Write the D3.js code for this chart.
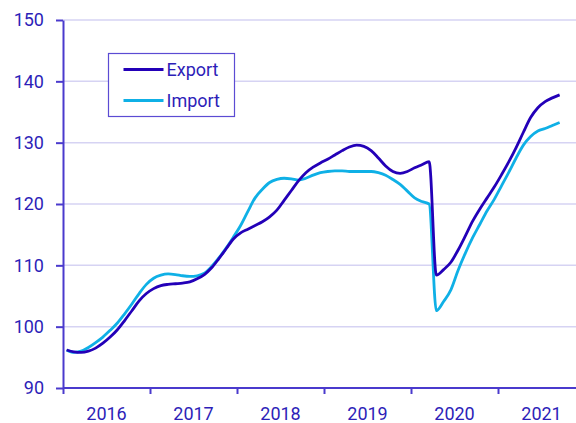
<!DOCTYPE html>
<html>
<head>
<meta charset="utf-8">
<script src="https://cdn.jsdelivr.net/npm/d3@7"></script>
<style>
  html, body { margin: 0; padding: 0; background: #fff; }
  svg { display: block; font-family: Roboto, "Noto Sans", sans-serif; }
</style>
</head>
<body>
<svg id="chart" width="576" height="423"></svg>
<script>
// Monthly index, Jan 2016 - Sep 2021
const years = ['2016', '2017', '2018', '2019', '2020', '2021'];
const yTicks = [90, 100, 110, 120, 130, 140, 150];

const exportValues = [
  96.2, 95.9, 95.8, 96.0, 96.5, 97.3, 98.3, 99.5, 101.0, 102.6, 104.2, 105.4,
  106.2, 106.7, 106.9, 107.0, 107.1, 107.3, 107.8, 108.5, 109.6, 111.1, 112.7, 114.3,
  115.3, 115.9, 116.5, 117.1, 117.9, 119.0, 120.6, 122.2, 123.8, 125.1, 126.0, 126.7,
  127.3, 128.0, 128.7, 129.3, 129.6, 129.4, 128.7, 127.5, 126.2, 125.3, 125.0, 125.3,
  125.9, 126.4, 126.9, 108.4, 109.3, 110.5, 112.5, 114.8, 117.2, 119.2, 121.0, 122.8,
  124.8, 126.9, 129.2, 131.7, 134.1, 135.7, 136.7, 137.3, 137.8
];
const importValues = [
  96.2, 95.8, 96.0, 96.6, 97.4, 98.3, 99.4, 100.6, 102.1, 103.7, 105.4, 106.9,
  107.9, 108.4, 108.6, 108.5, 108.3, 108.2, 108.3, 108.7, 109.8, 111.2, 112.8, 114.6,
  116.5, 118.8, 121.0, 122.4, 123.5, 124.0, 124.2, 124.1, 123.9, 124.2, 124.7, 125.1,
  125.3, 125.4, 125.4, 125.3, 125.3, 125.3, 125.3, 125.1, 124.7, 124.0, 123.2, 122.1,
  121.0, 120.4, 120.0, 102.6, 104.1, 106.0, 109.2, 112.0, 114.5, 116.7, 118.9, 120.8,
  123.0, 125.2, 127.5, 129.6, 131.0, 131.9, 132.3, 132.8, 133.3
];

const series = [
  { name: 'Export', values: exportValues, color: '#2300b8' },
  { name: 'Import', values: importValues, color: '#0fb0e6' }
];

const axisColor = '#4a3acd';
const textColor = '#2d1eb8';
const gridColor = '#d6d3f3';

const svg = d3.select('#chart');
const margin = { left: 63, top: 20, bottom: 35 };
const height = 423;
const monthW = 87 / 12;

const x = d3.scaleLinear()
  .domain([0, 72])
  .range([margin.left, margin.left + 72 * monthW]);

const y = d3.scaleLinear()
  .domain([90, 150])
  .range([height - margin.bottom, margin.top]);

// gridlines
svg.append('g')
  .selectAll('line')
  .data(yTicks.filter(d => d > 90))
  .join('line')
  .attr('x1', margin.left)
  .attr('x2', 576)
  .attr('y1', d => y(d))
  .attr('y2', d => y(d))
  .attr('stroke', gridColor)
  .attr('stroke-width', 1.5);

// y axis
const yAxis = svg.append('g')
  .attr('transform', `translate(${margin.left},0)`)
  .call(d3.axisLeft(y).tickValues(yTicks).tickSize(7).tickPadding(12).tickSizeOuter(0));

// x axis
const xAxis = svg.append('g')
  .attr('transform', `translate(0,${y(90)})`)
  .call(d3.axisBottom(x).tickValues(d3.range(0, 73, 12)).tickFormat('').tickSize(6).tickSizeOuter(0));

[yAxis, xAxis].forEach(g => {
  g.select('.domain').attr('stroke', axisColor).attr('stroke-width', 2);
  g.selectAll('.tick line').attr('stroke', axisColor).attr('stroke-width', 2);
  g.selectAll('.tick text')
    .attr('fill', textColor)
    .style('font-size', '18px')
    .style('font-family', 'Roboto, sans-serif');
});
xAxis.select('.domain').attr('d', `M${margin.left},0H576`);

// year labels centred between ticks
svg.append('g')
  .selectAll('text')
  .data(years)
  .join('text')
  .attr('x', (d, i) => x(i * 12 + 6))
  .attr('y', 420)
  .attr('text-anchor', 'middle')
  .attr('fill', textColor)
  .style('font-size', '18px')
  .text(d => d);

// lines
const line = d3.line()
  .x((d, i) => x(i + 0.5))
  .y(d => y(d))
  .curve(d3.curveMonotoneX);

svg.append('g')
  .selectAll('path')
  .data(series.slice().reverse())
  .join('path')
  .attr('d', d => line(d.values))
  .attr('fill', 'none')
  .attr('stroke', d => d.color)
  .attr('stroke-width', 2.8)
  .attr('stroke-linejoin', 'round');

// legend
const legend = svg.append('g').attr('transform', 'translate(108.5,53.5)');
legend.append('rect')
  .attr('width', 126)
  .attr('height', 63)
  .attr('fill', '#fff')
  .attr('stroke', '#5b4bd3')
  .attr('stroke-width', 1.2);

const item = legend.selectAll('g.item')
  .data(series)
  .join('g')
  .attr('class', 'item')
  .attr('transform', (d, i) => `translate(0,${16 + i * 31})`);

item.append('line')
  .attr('x1', 15)
  .attr('x2', 55)
  .attr('stroke', d => d.color)
  .attr('stroke-width', 3);

item.append('text')
  .attr('x', 58)
  .attr('y', 6.5)
  .attr('fill', textColor)
  .style('font-size', '18px')
  .text(d => d.name);
</script>
</body>
</html>
